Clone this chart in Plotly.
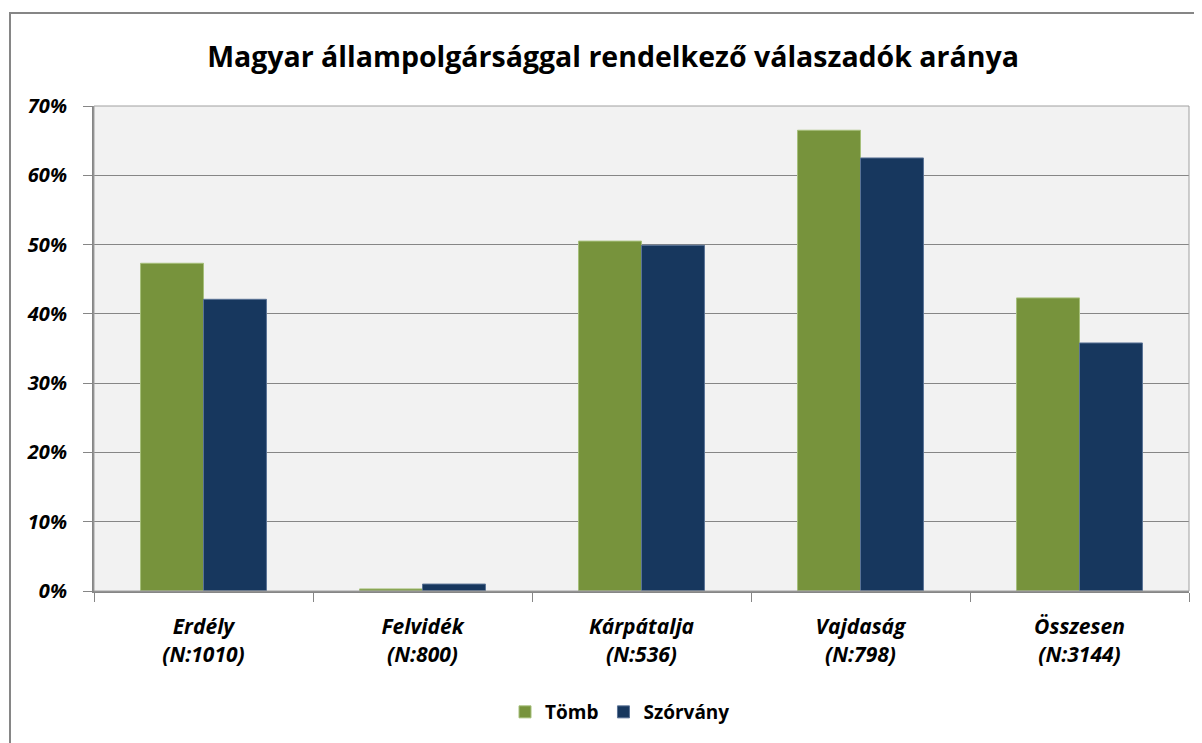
import plotly.graph_objects as go

categories = ["Erdély<br>(N:1010)", "Felvidék<br>(N:800)", "Kárpátalja<br>(N:536)",
              "Vajdaság<br>(N:798)", "Összesen<br>(N:3144)"]
tomb = [0.473, 0.003, 0.505, 0.665, 0.423]
szorvany = [0.421, 0.010, 0.499, 0.625, 0.358]
y_ticks = [0, 0.1, 0.2, 0.3, 0.4, 0.5, 0.6, 0.7]

OFF = 8  # default page body margin
W, H = 1202 - OFF, 743 - OFF
# plot area in page pixels: left 94, right 1189, top 106, bottom 591
L, T = 94 - OFF, 106 - OFF
R = OFF + W - 1189
B = OFF + H - 591

font_family = "'Open Sans', Lato, sans-serif"

fig = go.Figure()
fig.add_trace(go.Bar(name="Tömb", x=categories, y=tomb,
                     marker=dict(color="#77933C", line=dict(color="#A6BF7A", width=1))))
fig.add_trace(go.Bar(name="Szórvány", x=categories, y=szorvany,
                     marker=dict(color="#17375E", line=dict(color="#5A7396", width=1))))

pw = W - L - R
ph = H - T - B


def px_x(x):
    return (x - OFF - L) / pw


def px_y(y):
    return (H - B - (y - OFF)) / ph


# outer chart border (left and top visible)
fig.add_shape(type="rect", xref="paper", yref="paper",
              x0=px_x(10), x1=px_x(1215),
              y0=px_y(760), y1=px_y(13),
              line=dict(color="#868686", width=2), fillcolor="rgba(0,0,0,0)", layer="below")

fig.update_layout(
    width=W, height=H,
    margin=dict(l=L, r=R, t=T, b=B, autoexpand=False),
    paper_bgcolor="white",
    plot_bgcolor="#F2F2F2",
    barmode="group",
    bargap=0.425,
    bargroupgap=0,
    title=dict(text="<b>Magyar állampolgársággal rendelkező válaszadók aránya</b>",
               x=(613 - OFF) / W, xanchor="center", y=1 - (57 - OFF) / H, yanchor="middle",
               font=dict(family=font_family, size=28.5, color="black")),
    font=dict(family=font_family, color="black"),
    showlegend=True,
    legend=dict(orientation="h", x=px_x(620), xanchor="center", y=px_y(712),
                yanchor="middle", font=dict(size=19, color="black", weight="bold"),
                itemwidth=30, traceorder="normal"),
    xaxis=dict(
        showline=True, linecolor="#868686", linewidth=2, mirror=False,
        ticks="outside", tickson="boundaries", ticklen=9, tickcolor="#868686", tickwidth=1,
        tickfont=dict(size=21, family=font_family, color="black", weight="bold", style="italic"),
        ticklabelstandoff=16,
        showgrid=False,
    ),
    yaxis=dict(
        range=[0, 0.7], tickvals=y_ticks, tickformat=".0%",
        showline=True, linecolor="#868686", linewidth=2,
        ticks="outside", ticklen=9, tickcolor="#868686",
        tickfont=dict(size=20, family=font_family, color="black", weight="bold", style="italic"),
        ticklabelstandoff=12,
        showgrid=True, gridcolor="#868686", gridwidth=1,
        zeroline=False,
    ),
)
# plot-area border
fig.add_shape(type="rect", xref="paper", yref="paper", x0=0, x1=1, y0=0, y1=1,
              line=dict(color="#A0A0A0", width=1), fillcolor="rgba(0,0,0,0)", layer="above")

fig.write_html("out.html")
